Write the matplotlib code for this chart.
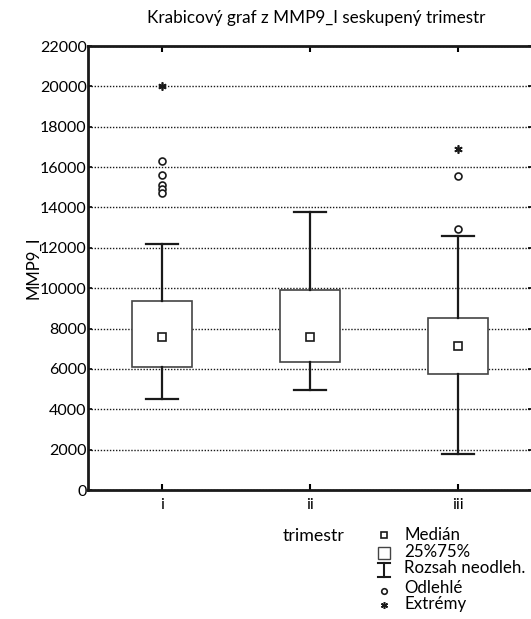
import numpy as np
import matplotlib.pyplot as plt
from matplotlib.lines import Line2D
from matplotlib.patches import Rectangle

plt.rcParams['font.family'] = ['Lato', 'DejaVu Sans']

# data
groups = ["i", "ii", "iii"]
q1 = [6080, 6360, 5730]
q3 = [9370, 9910, 8510]
medians = [7600, 7600, 7120]
whisker_lo = [4520, 4970, 1800]
whisker_hi = [12180, 13760, 12600]
outliers = [[16300, 15600, 15100, 14900, 14700], [], [15580, 12920]]
extremes = [[20000], [], [16900]]

fig = plt.figure(figsize=(5.31, 6.19), dpi=100)
ax = fig.add_axes([88 / 531, 1 - 490 / 619, 444 / 531, 444 / 619])

pos = np.arange(len(groups)) + 0.5
stats = []
for i in range(len(groups)):
    stats.append(dict(med=medians[i], q1=q1[i], q3=q3[i],
                      whislo=whisker_lo[i], whishi=whisker_hi[i], fliers=[]))

ax.bxp(stats, positions=pos, widths=0.405, patch_artist=True, showcaps=True,
       showfliers=False,
       boxprops=dict(facecolor="white", edgecolor="#444444", linewidth=1.2),
       whiskerprops=dict(color="#1a1a1a", linewidth=1.6),
       capprops=dict(color="#1a1a1a", linewidth=1.6),
       medianprops=dict(linewidth=0), capwidths=0.21, zorder=3)

ax.plot(pos, medians, ls="none", marker="s", ms=5.5, mfc="white",
        mec="#1a1a1a", mew=1.2, zorder=4)
for i in range(len(groups)):
    if outliers[i]:
        ax.plot([pos[i]] * len(outliers[i]), outliers[i], ls="none", marker="o",
                ms=5, mfc="white", mec="#1a1a1a", mew=1.2, zorder=4)
    if extremes[i]:
        ax.plot([pos[i]] * len(extremes[i]), extremes[i], ls="none",
                marker=(6, 2, 0), ms=6, color="#1a1a1a", mew=1.2, zorder=4)

ax.set_xlim(0, 3)
ax.set_ylim(0, 22000)
ax.set_yticks(np.arange(0, 22001, 2000))
ax.set_xticks(pos)
ax.set_xticklabels(groups, fontsize=11.5)
ax.tick_params(axis="y", labelsize=11.5, direction="in", length=3, pad=1,
               right=True, width=1.2)
ax.tick_params(axis="x", direction="in", length=4, top=True, width=1.5, pad=6)
ax.grid(axis="y", color="#1a1a1a", linestyle=(0, (1, 1.2)), linewidth=1.0, zorder=0)
ax.set_axisbelow(True)
for s in ["left", "bottom", "top"]:
    ax.spines[s].set_linewidth(2)
    ax.spines[s].set_color("#1a1a1a")
ax.spines["right"].set_visible(False)

fig.text(316 / 531, 1 - 18 / 619, "Krabicový graf z MMP9_I seskupený trimestr",
         ha="center", va="center", fontsize=12.3)
fig.text(33 / 531, 1 - 268 / 619, "MMP9_I", rotation=90, ha="center",
         va="center", fontsize=12)
fig.text(283 / 531, 1 - 536 / 619, "trimestr", ha="left", va="center",
         fontsize=12.8)

# legend
leg_labels = ["Medián", "25%75%", "Rozsah neodleh.", "Odlehlé", "Extrémy"]
ys = [535, 552, 568, 588, 604]
sx = 384
H = 619
for lab, y in zip(leg_labels, ys):
    fig.text(404 / 531, 1 - y / H, lab, ha="left", va="center", fontsize=12.2)
fig.add_artist(Line2D([sx / 531], [1 - 535 / H], ls="none", marker="s", ms=4.5,
                      mfc="white", mec="#1a1a1a", mew=1.2))
fig.add_artist(Rectangle(((sx - 6) / 531, 1 - 559 / H), 12 / 531, 12 / H,
                         facecolor="white", edgecolor="#444444", lw=1.0))
fig.add_artist(Line2D([sx / 531] * 2, [1 - 563 / H, 1 - 577 / H], color="#1a1a1a", lw=1.5))
fig.add_artist(Line2D([(sx - 6) / 531, (sx + 6) / 531], [1 - 563 / H] * 2, color="#1a1a1a", lw=1.5))
fig.add_artist(Line2D([(sx - 6) / 531, (sx + 6) / 531], [1 - 577 / H] * 2, color="#1a1a1a", lw=1.5))
fig.add_artist(Line2D([sx / 531], [1 - 591 / H], ls="none", marker="o", ms=4,
                      mfc="white", mec="#1a1a1a", mew=1.2))
fig.add_artist(Line2D([sx / 531], [1 - 605 / H], ls="none", marker=(6, 2, 0), ms=5,
                      color="#1a1a1a", mew=1.1))

fig.savefig("out.png", dpi=100)
